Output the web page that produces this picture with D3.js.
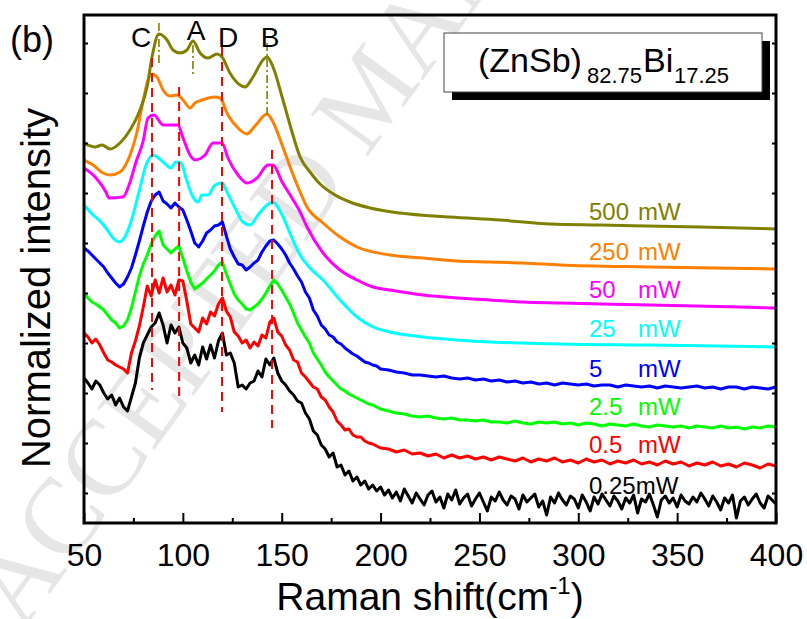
<!DOCTYPE html>
<html>
<head>
<meta charset="utf-8">
<script src="https://cdn.jsdelivr.net/npm/d3@7"></script>
<style>
  body { margin: 0; background: #fff; }
  text { font-family: Arial, "Liberation Sans", sans-serif; }
</style>
</head>
<body>
<script>
// ---- data (Raman shift in cm-1, intensity in arbitrary offset units) ----
const powerNums = ["500", "250", "50", "25", "5", "2.5", "0.5", "0.25"];
const xTicks = [50, 100, 150, 200, 250, 300, 350, 400];
const xMinorTicks = [75, 125, 175, 225, 275, 325, 375];
const yTicks = [0, 50, 100, 150, 200, 250, 300, 350, 400, 450];

// smooth spectra: [shift, intensity]
const s500 = [[50,350],[55.6,346],[59.1,348],[63.2,344],[68.2,350],[73.3,363],[78.3,383],[81.9,406],[84.4,436],[87.9,459],[92,453],[95,443],[98.6,440],[102.1,443],[105.1,452],[108.7,440],[112.7,435],[117.3,439],[119.8,436],[123.8,420],[128.9,408],[131.4,406],[135.5,416],[140.5,433],[142.6,436],[145.6,426],[150.2,396],[154.2,368],[159.3,336],[164.3,321],[169.4,309],[177,298],[184.5,291],[194.7,285],[209.8,280],[235.1,276],[260.4,273],[285.7,269],[311,268],[361.6,266],[400,264]];
const s250 = [[50,333],[54.6,328],[59.6,320],[63.2,318],[68.2,321],[73.3,338],[76.8,361],[79.8,391],[82.4,413],[84.4,419],[86.9,416],[90,403],[93.5,397],[97,398],[100.1,393],[103.6,385],[106.1,390],[109.7,393],[116.3,396],[118.8,395],[122.8,378],[127.9,365],[132.4,359],[136.5,367],[142.6,379],[145.6,371],[150.2,348],[155.2,321],[159.3,301],[162.8,286],[170.9,270],[179.5,256],[188.1,246],[204.8,238],[221.5,235],[238.7,232],[255.4,231],[272,230],[290.8,228],[336.3,226],[400,224]];
const s50 = [[50,325],[56.1,315],[61.1,301],[62.6,295],[69.7,296],[72.8,308],[76.3,331],[79.8,351],[82.4,375],[85.4,378],[90,368],[95,368],[97.5,368],[100.1,355],[103.6,338],[106.1,333],[111.2,338],[115.3,350],[119.8,350],[122.8,335],[127.9,318],[132.4,310],[137.5,315],[143.1,328],[145.6,328],[150.2,311],[155.2,295],[159.3,281],[162.8,266],[170.9,240],[179.5,223],[188.1,213],[196.2,206],[204.8,203],[221.5,198],[238.7,195],[255.4,193],[272,191],[290.8,190],[336.3,188],[400,185]];
const s25 = [[50,288],[54.6,278],[57.6,273],[61.1,265],[64.7,255],[67.7,251],[71.2,258],[74.8,278],[77.8,301],[81.4,328],[84.9,338],[90,331],[94,325],[96.5,331],[99.1,330],[101.6,315],[104.6,298],[107.7,291],[109.7,298],[112.7,298],[116.3,308],[119.8,310],[122.3,301],[126.4,285],[130.4,271],[134,268],[138,278],[142.6,288],[145.6,291],[150.2,278],[155.2,255],[159.3,238],[164.3,225],[170.9,213],[179.5,193],[188.1,176],[196.2,166],[204.8,161],[221.5,156],[238.7,153],[255.4,151],[272,150],[290.8,149],[336.3,148],[400,146]];

// noisy spectra sampled on a common shift grid
const fineShift = d3.range(50, 200, 2).concat(d3.range(200, 401, 4));
const denseShift = d3.range(50, 401, 2);
const s5 = [245,242,238,234,230,226,220,215,210,206, 209,216,225,238,252,267,281,292,298,301,
  292,289,285,290,286,283,273,262,250,246, 252,260,263,267,268,271,257,244,236,229,
  228,223,226,230,233,241,247,252,253,249, 244,238,230,224,217,211,201,195,183,177,
  168,164,158,156,151,149,145,142,139,137, 134,131,130,128,127,124,
  123,121,120,118,118,117,116,117,115,114, 115,113,114,112,113,111,112,110,111,109,
  110,108,110,109,108,109,107,108,108,106, 108,107,106,107,105,107,106,105,106,107,
  105,106,104,106,106,104,106,105,104,106];
const s2p5 = [200,195,191,189,186,183,178,173,170,165, 167,173,185,201,217,229,238,249,257,262,
  248,244,240,244,247,235,222,211,204,207, 210,214,218,222,228,231,219,209,199,193,
  189,184,183,186,189,194,200,207,213,209, 203,196,189,180,170,163,156,150,140,134,
  128,121,116,112,108,104,102,99,97,95, 93,91,89,88,86,84,
  82,80,79,77,76,77,75,74,75,73, 73,72,73,71,71,70,72,70,69,71,
  70,71,69,70,68,70,69,67,69,68, 67,69,67,66,68,67,66,67,65,67,
  66,65,67,65,66,64,66,65,67,66];
const s0p5 = [160,156,150,154,148,140,133,131,128,126, 124,120,140,152,167,186,207,197,213,200,
  215,201,208,198,213,212,192,169,165,161, 175,169,181,177,189,195,182,176,161,157,
  150,153,145,151,147,158,155,171,175,161, 157,148,143,133,131,120,116,111,106,104,
  96,93,86,81,72,68,63,64,58,56, 56,52,50,49,47,45,
  44,41,43,39,40,37,39,35,38,35, 37,34,36,33,36,34,32,35,31,34,
  32,35,31,33,30,34,31,33,29,32, 30,33,29,31,28,32,29,31,27,30,
  28,31,27,29,26,30,28,25,29,27];
// 0.25 mW uses the dense grid (every 2 cm-1)
const s0p25 = [115,110,104,112,108,100,94,98,88,95, 86,82,96,110,135,150,158,166,170,180,
  168,150,168,160,166,150,145,130,138,128, 146,134,148,135,152,160,138,140,130,106,
  108,104,110,112,122,116,134,128,135,120, 112,108,102,98,92,90,80,74,62,58,
  48,44,36,40,26,28,18,22,12,16, 8,12,4,8,2,6,
  -2,3,-5,1,-8,4,-3,-10,0,-6, -12,-2,2,-9,-4,-15,-1,-7,3,-11,
  -5,-1,-13,-6,0,-9,-18,-4,-8,1, -7,-12,-3,-6,-16,-2,-9,-5,-1,-14,
  -8,-22,-4,-10,0,-7,-12,-3,-6,-15, -2,-9,-18,-4,-11,-1,-7,-13,-3,-8,
  -16,-5,-10,-2,-20,-6,-9,-1,-12,-24, -7,-3,-10,-5,-14,-2,-8,-11,-4,-9,
  0,-6,-13,-3,-9,-17,-5,-10,-2,-25, -8,-4,-12,-6,-1,-10,-15,-3,-7,-11];

// peak markers: shift, from, to
const peakNames = ["C", "A", "D", "B"];
const peakGuides = [[87.9, 470, 430], [105.1, 448, 416], [142.6, 450, 378]];
const peakDashes = [[84.4, 435, 103], [98.1, 406, 95], [119.8, 446, 81], [145.1, 343, 65]];

// ---- layout ----
const W = 807, H = 619;
const colors = ["#808000", "#ff8000", "#ff00ff", "#00ffff", "#0000ff", "#00ff00", "#ff0000", "#000000"];

const svg = d3.select("body").append("svg").attr("width", W).attr("height", H);

const x = d3.scaleLinear().domain([50, 400]).range([84, 776]);
const y = d3.scaleLinear().domain([-30, 478]).range([523, 15]);

// faint watermark
svg.append("text")
  .attr("transform", "translate(22,632) rotate(-54)")
  .style("font-family", "'Liberation Serif', 'DejaVu Serif', serif")
  .style("font-size", "108px")
  .attr("fill", "#e6e6e6")
  .text("ACCEPTED MANUSCRIPT");

svg.append("clipPath").attr("id", "plot")
  .append("rect").attr("x", 84).attr("y", 15).attr("width", 692).attr("height", 508);

const g = svg.append("g").attr("clip-path", "url(#plot)");

const smooth = d3.line().x(d => x(d[0])).y(d => y(d[1])).curve(d3.curveMonotoneX);
const rough = grid => d3.line().x((d, i) => x(grid[i])).y(d => y(d));

const series = [s500, s250, s50, s25, s5, s2p5, s0p5, s0p25];
series.slice().reverse().forEach((s, k) => {
  const i = series.length - 1 - k;
  let d;
  if (i < 4) d = smooth(s);
  else if (i === 7) d = rough(denseShift)(s);
  else d = rough(fineShift)(s);
  g.append("path")
    .attr("d", d)
    .attr("fill", "none")
    .attr("stroke", colors[i])
    .attr("stroke-width", 3)
    .attr("stroke-linejoin", "round");
});

// guide lines at the peaks
g.selectAll(".guide").data(peakGuides).enter().append("line")
  .attr("x1", d => x(d[0])).attr("x2", d => x(d[0]))
  .attr("y1", d => y(d[1])).attr("y2", d => y(d[2]))
  .attr("stroke", "#808000").attr("stroke-width", 1.6)
  .attr("stroke-dasharray", "8,3,2,3");

g.selectAll(".dash").data(peakDashes).enter().append("line")
  .attr("x1", d => x(d[0])).attr("x2", d => x(d[0]))
  .attr("y1", d => y(d[1])).attr("y2", d => y(d[2]))
  .attr("stroke", "#ff0000").attr("stroke-width", 2)
  .attr("stroke-dasharray", "9,6");

// peak letters
const peakLabelPos = [[141, 47], [196, 40], [228, 47], [270, 47]];
svg.selectAll(".peak").data(peakNames).enter().append("text")
  .attr("x", (d, i) => peakLabelPos[i][0]).attr("y", (d, i) => peakLabelPos[i][1])
  .attr("text-anchor", "middle").style("font-size", "28px")
  .text(d => d);

// axes
const xAxis = d3.axisBottom(x).tickValues(xTicks).tickSizeInner(-10).tickSizeOuter(0).tickPadding(20);
const gx = svg.append("g").attr("transform", "translate(0,523)").call(xAxis);
gx.select(".domain").remove();
gx.selectAll(".tick line").attr("stroke-width", 2);
gx.selectAll(".tick text").style("font-size", "32px").attr("fill", "#000");

const gxm = svg.append("g").attr("transform", "translate(0,523)")
  .call(d3.axisBottom(x).tickValues(xMinorTicks).tickSizeInner(-5).tickSizeOuter(0).tickFormat(""));
gxm.select(".domain").remove();
gxm.selectAll(".tick line").attr("stroke-width", 2);

const gyl = svg.append("g").attr("transform", "translate(84,0)")
  .call(d3.axisLeft(y).tickValues(yTicks).tickSizeInner(-4).tickSizeOuter(0).tickFormat(""));
gyl.select(".domain").remove();
gyl.selectAll(".tick line").attr("stroke-width", 2);

const gyr = svg.append("g").attr("transform", "translate(776,0)")
  .call(d3.axisRight(y).tickValues(yTicks).tickSizeInner(-4).tickSizeOuter(0).tickFormat(""));
gyr.select(".domain").remove();
gyr.selectAll(".tick line").attr("stroke-width", 2);

svg.append("rect").attr("x", 84).attr("y", 15).attr("width", 692).attr("height", 508)
  .attr("fill", "none").attr("stroke", "#000").attr("stroke-width", 3);

// axis titles
svg.append("text")
  .attr("transform", "translate(50,288) rotate(-90)")
  .attr("text-anchor", "middle").style("font-size", "40px")
  .text("Normalized intensity");

const xt = svg.append("text").attr("x", 430).attr("y", 610)
  .attr("text-anchor", "middle").style("font-size", "39px");
xt.append("tspan").text("Raman shift(cm");
xt.append("tspan").attr("dy", -16).style("font-size", "24px").text("-1");
xt.append("tspan").attr("dy", 16).text(")");

// panel tag
svg.append("text").attr("x", 10).attr("y", 52).style("font-size", "36px").text("(b)");

// composition box
svg.append("rect").attr("x", 452).attr("y", 41).attr("width", 318).attr("height", 59).attr("fill", "#000");
svg.append("rect").attr("x", 444).attr("y", 33).attr("width", 318).attr("height", 59)
  .attr("fill", "#fff").attr("stroke", "#444").attr("stroke-width", 1);
const comp = svg.append("text").attr("y", 72);
comp.append("tspan").attr("x", 478).style("font-size", "34px").text("(ZnSb)");
comp.append("tspan").attr("x", 587).attr("dy", 11).style("font-size", "22px").text("82.75");
comp.append("tspan").attr("x", 643).attr("dy", -11).style("font-size", "34px").text("Bi");
comp.append("tspan").attr("x", 674).attr("dy", 11).style("font-size", "22px").text("17.25");

// power labels
const labelBase = [220, 260, 298, 337, 377, 415, 453, 494];
powerNums.forEach((p, i) => {
  const t = svg.append("text").attr("y", labelBase[i]).style("font-size", "24px").attr("fill", colors[i]);
  if (p === "0.25") {
    t.attr("x", 589).text(p + "mW");
  } else {
    t.append("tspan").attr("x", 589).text(p);
    t.append("tspan").attr("x", 638).text("mW");
  }
});
</script>
</body>
</html>
